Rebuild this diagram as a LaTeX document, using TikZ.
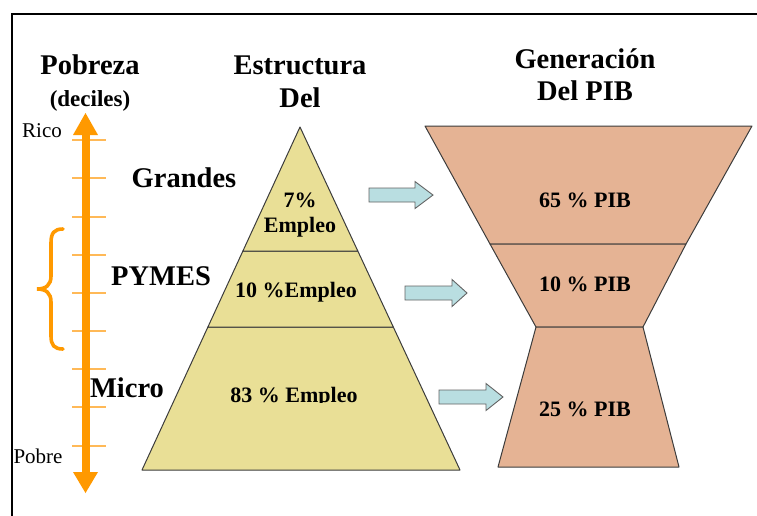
\documentclass[tikz,border=0pt]{standalone}
\usepackage{fontspec}
\setmainfont{Liberation Serif}
\definecolor{orng}{HTML}{FF9900}
\definecolor{tickc}{HTML}{FFB957}
\definecolor{pyr}{HTML}{E9DF96}
\definecolor{pib}{HTML}{E5B394}
\definecolor{blu}{HTML}{B9DEE1}
\definecolor{edge}{HTML}{3C3C3C}
\tikzset{
  head/.style={inner sep=0pt, anchor=base, font=\fontsize{28.5}{30}\selectfont\bfseries},
  sub/.style={inner sep=0pt, anchor=base, font=\fontsize{23}{25}\selectfont\bfseries},
  lbl/.style={inner sep=0pt, anchor=base, font=\fontsize{21}{23}\selectfont},
  val/.style={inner sep=0pt, anchor=base, font=\fontsize{22}{24}\selectfont\bfseries},
  tickline/.style={draw=tickc, line width=1.3pt},
  bracestyle/.style={draw=orng, line width=3.6pt, line cap=round},
  pyrpart/.style={fill=pyr, draw=edge, line width=1pt, line join=round},
  pibpart/.style={fill=pib, draw=edge, line width=1pt, line join=round},
  blockarr/.style={fill=blu, draw=edge!80, line width=0.9pt, line join=miter},
}
\newcommand\myblockarrow[4]{% left, headstart, tip, centre y
  \path[blockarr] (#1,#4-7) -- (#2,#4-7) -- (#2,#4-13.5) -- (#3,#4) -- (#2,#4+13.5) -- (#2,#4+7) -- (#1,#4+7) -- cycle;}
\begin{document}
\begin{tikzpicture}[x=1pt,y=-1pt]
\useasboundingbox (0,0) rectangle (757,515);
% frame
\draw[line width=2.6pt] (12,516) -- (12,14) -- (758,14);
% headings
\node[head] (hpob) at (90,74) {Pobreza};
\node[sub]  (hdec) at (90,106) {(deciles)};
\node[head] (hest) at (300,74) {Estructura};
\node[head] (hdel) at (300,107) {Del};
\node[head] (hgen) at (585,68) {Generación};
\node[head] (hpib) at (585,100) {Del PIB};
% poverty axis
\foreach \yy in {140,178,217,255,293,331,369,407,446}
  \draw[tickline] (72,\yy) -- (106,\yy);
\fill[orng] (81.5,134) rectangle (89.5,473);
\fill[orng] (85.5,113) -- (98,135) -- (73,135) -- cycle;
\fill[orng] (85.5,493) -- (98,472) -- (73,472) -- cycle;
\coordinate (axtop) at (85.5,113);
\coordinate (axbot) at (85.5,493);
\node[lbl] (rico) at (42,137) {Rico};
\node[lbl] (pobre) at (38,463) {Pobre};
% brace
\draw[bracestyle] (63,229) .. controls (54,229) and (51,233) .. (51,243) -- (51,276)
  .. controls (51,285) and (46,289) .. (37,289)
  .. controls (46,289) and (51,293) .. (51,302) -- (51,336)
  .. controls (51,345) and (54,349) .. (63,349);
% firm sizes
\node[head] (grandes) at (184,187) {Grandes};
\node[head] (pymes) at (161,285) {PYMES};
\node[head] (micro) at (127,397) {Micro};
% pyramid
\coordinate (apex) at (300,127);
\coordinate (bl) at (142,470);
\coordinate (br) at (460,470);
\path[pyrpart] (bl) -- (br) -- (393.3,327) -- (207.9,327) -- cycle;
\path[pyrpart] (207.9,327) -- (393.3,327) -- (357.8,251) -- (242.9,251) -- cycle;
\path[pyrpart] (242.9,251) -- (357.8,251) -- (apex) -- cycle;
\node[val] (p7) at (300,207) {7\%};
\node[val] (p7e) at (300,232) {Empleo};
\node[val] (p10) at (296,297) {10 \%Empleo};
\begin{scope}
\clip (200,360) rectangle (400,402.5);
\node[val] (p83) at (294,402) {83 \% Empleo};
\end{scope}
% PIB hourglass
\path[pibpart] (425,126) -- (752,126) -- (686,244) -- (490,244) -- cycle;
\path[pibpart] (490,244) -- (686,244) -- (643,327) -- (536,327) -- cycle;
\path[pibpart] (536,327) -- (643,327) -- (679,467) -- (498,467) -- cycle;
\node[val] (g65) at (585,207) {65 \% PIB};
\node[val] (g10) at (585,291) {10 \% PIB};
\node[val] (g25) at (585,416) {25 \% PIB};
% block arrows
\myblockarrow{369}{415}{433}{195}
\myblockarrow{405}{452}{467}{293}
\myblockarrow{439}{486}{503}{397}
\end{tikzpicture}
\end{document}
